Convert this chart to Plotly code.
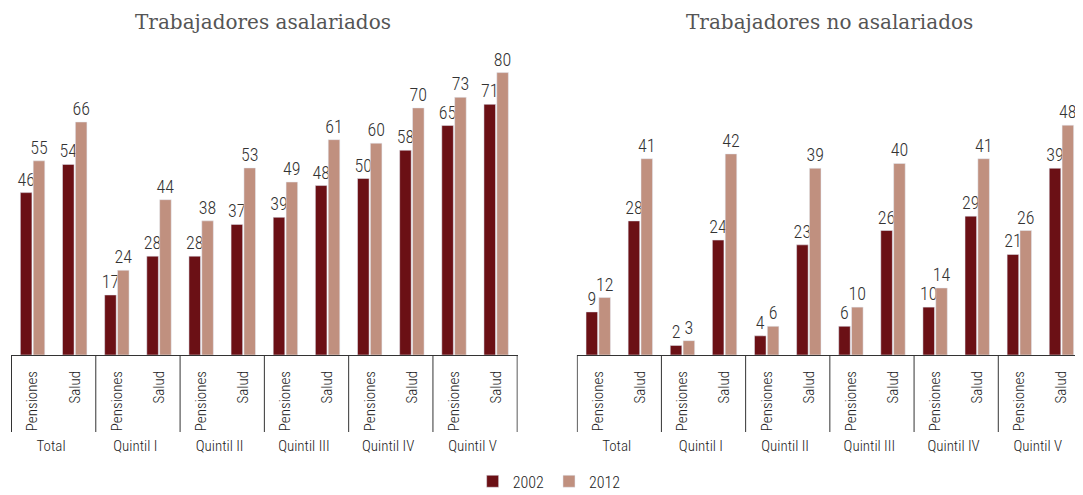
import plotly.graph_objects as go

groups = ["Total", "Quintil I", "Quintil II", "Quintil III", "Quintil IV", "Quintil V"]
kinds = ["Pensiones", "Salud"]

asal_2002 = [46, 54, 17, 28, 28, 37, 39, 48, 50, 58, 65, 71]
asal_2012 = [55, 66, 24, 44, 38, 53, 49, 61, 60, 70, 73, 80]
noasal_2002 = [9, 28, 2, 24, 4, 23, 6, 26, 10, 29, 21, 39]
noasal_2012 = [12, 41, 3, 42, 6, 39, 10, 40, 14, 41, 26, 48]

dark = "#6B1015"
light = "#C0907F"
font_c = "Roboto Condensed Light, Liberation Sans Narrow, Roboto Condensed, Arial Narrow, sans-serif"
font_t = "DejaVu Serif, Liberation Serif, serif"

x_outer = [g for g in groups for _ in kinds]
x_inner = kinds * len(groups)
x = [x_outer, x_inner]

fig = go.Figure()
for vals, name, color, ax, show in [
    (asal_2002, "2002", dark, "x", True),
    (asal_2012, "2012", light, "x", True),
    (noasal_2002, "2002", dark, "x2", False),
    (noasal_2012, "2012", light, "x2", False),
]:
    fig.add_trace(go.Bar(
        x=x, y=vals, name=name, marker_color=color,
        xaxis=ax, yaxis="y" if ax == "x" else "y2",
        text=vals, textposition="outside", cliponaxis=False, constraintext="none",
        textfont=dict(size=18, color="#333", family=font_c),
        showlegend=show, legendgroup=name,
    ))

xaxis_common = dict(
    type="multicategory", showline=True, linecolor="#333", linewidth=1,
    tickangle=-90, tickfont=dict(size=15, color="#222", family=font_c),
    showdividers=False, automargin=False, ticklabelstandoff=9,
    ticks="", showgrid=False, zeroline=False,
)
yaxis_common = dict(visible=False, showgrid=False, zeroline=False)

# group dividers below each panel's axis line (between category groups)
shapes = []
for xr in ["x", "x2"]:
    for k in range(len(groups) + 1):
        shapes.append(dict(
            type="line", xref=xr, yref="y domain" if xr == "x" else "y2 domain",
            x0=2 * k - 0.5, x1=2 * k - 0.5, y0=0, y1=-0.2525,
            line=dict(color="#333", width=1),
        ))

# page body has an 8px margin, so the figure is 8px smaller than the window
fig.update_layout(
    width=1075, height=487,
    margin=dict(l=3, r=0, t=42, b=140),
    plot_bgcolor="white", paper_bgcolor="white",
    barmode="group", bargap=0.39, bargroupgap=0.1,
    xaxis=dict(domain=[0, 0.4727], **xaxis_common),
    xaxis2=dict(domain=[0.5277, 1], **xaxis_common),
    yaxis=dict(range=[0, 86.4], anchor="x", **yaxis_common),
    yaxis2=dict(range=[0, 63.7], anchor="x2", **yaxis_common),
    legend=dict(orientation="h", x=0.502, xanchor="center",
                yref="container", y=0.028, yanchor="middle",
                font=dict(size=16, color="#222", family=font_c), traceorder="normal",
                itemwidth=30),
    shapes=shapes,
    annotations=[
        dict(text="Trabajadores asalariados", x=0.2355, xref="paper", y=1.092, yref="paper",
             showarrow=False, xanchor="center", yanchor="middle",
             font=dict(size=20, color="#555", family=font_t)),
        dict(text="Trabajadores no asalariados", x=0.7635, xref="paper", y=1.092, yref="paper",
             showarrow=False, xanchor="center", yanchor="middle",
             font=dict(size=20, color="#555", family=font_t)),
    ],
)

fig.write_html("out.html")
